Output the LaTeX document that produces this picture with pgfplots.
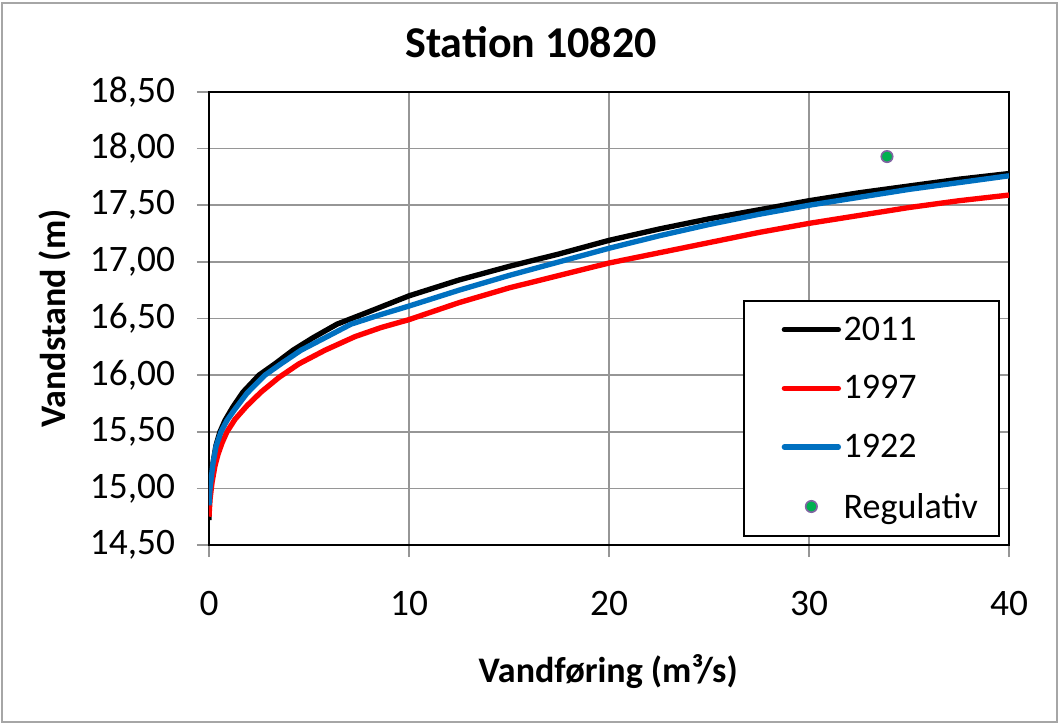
\documentclass[border=0pt]{standalone}
\usepackage{fontspec}
\setmainfont{Carlito}
\usepackage{pgfplots}
\pgfplotsset{compat=1.18}
\definecolor{xblue}{RGB}{0,112,192}
\definecolor{xred}{RGB}{255,0,0}
\definecolor{xgreen}{RGB}{0,176,80}
\definecolor{xpurple}{RGB}{128,100,162}
\definecolor{gridgray}{RGB}{150,150,150}
\pgfplotsset{marklegend/.style={legend image code/.code={\path (0pt,0pt); \draw[mark repeat=2, mark phase=2, ##1] plot coordinates {(14pt,0pt) (34.25pt,0pt) (54.5pt,0pt)};}}}
\begin{document}
\begin{tikzpicture}
\useasboundingbox (-156.75pt,-134.25pt) rectangle (637.5pt,408.75pt);
\draw[gray!70, line width=1.2pt] (-155.25pt,-132.75pt) rectangle (636pt,406.5pt);
\begin{axis}[
  at={(0,0)}, anchor=south west,
  scale only axis, width=600pt, height=339.75pt,
  xmin=0, xmax=40, ymin=14.5, ymax=18.5,
  xtick={0,10,20,30,40},
  ytick={14.5,15,15.5,16,16.5,17,17.5,18,18.5},
  grid=major,
  grid style={gridgray, line width=1.2pt},
  axis line style={black, line width=2pt},
  tick style={gridgray, line width=1.2pt},
  tick align=outside, major tick length=9pt,
  xtick pos=left, ytick pos=left,
  /pgf/number format/assume math mode=true,
  tick label style={font=\fontsize{28}{33}\selectfont},
  yticklabel style={xshift=-13pt, /pgf/number format/.cd, fixed, fixed zerofill, precision=2, use comma},
  xticklabel style={yshift=-22pt, /pgf/number format/.cd, fixed, precision=0},
  title={Station 10820},
  title style={font=\fontsize{33}{38}\bfseries, at={(0.4025,1.0927)}, anchor=center},
  xlabel={Vandføring (m³/s)},
  xlabel style={font=\fontsize{27}{32}\bfseries, at={(0.499,-0.2803)}, anchor=center},
  ylabel={Vandstand (m)},
  ylabel style={font=\fontsize{27}{32}\bfseries, at={(-0.1925,0.5)}, anchor=center, rotate=0},
  legend style={at={(0.989,0.541)}, anchor=north east, draw=black, line width=1.5pt, fill=white,
    font=\fontsize{27}{32}\selectfont, row sep=21pt, inner xsep=14pt, inner ysep=10pt,
    cells={anchor=west}},
  legend image code/.code={\path (0pt,0pt); \draw[#1, line cap=round] (14pt,0pt) -- (54.5pt,0pt);},
  legend cell align=left,
]
\addplot[black, line width=4pt, line join=round] coordinates {
(0,14.72) (0.02,14.9) (0.1,15.05) (0.2,15.22) (0.35,15.38) (0.55,15.5) (0.8,15.6) (1.2,15.72) (1.7,15.85) (2.5,16.0) (3.3,16.1) (4.2,16.22) (5.2,16.33) (6.4,16.45) (8,16.56) (10,16.70) (12.5,16.84) (15,16.96) (17.5,17.07) (20,17.19) (22.5,17.29) (25,17.38) (27.5,17.46) (30,17.54) (32.5,17.61) (35,17.67) (37.5,17.73) (40,17.78)
};
\addlegendentry{2011}
\addplot[xred, line width=4pt, line join=round] coordinates {
(0,14.75) (0.05,14.9) (0.15,15.05) (0.3,15.2) (0.45,15.3) (0.65,15.4) (0.9,15.5) (1.3,15.61) (1.9,15.73) (2.6,15.85) (3.5,15.98) (4.5,16.1) (5.8,16.22) (7.3,16.34) (8.6,16.42) (10,16.49) (12.5,16.64) (15,16.77) (17.5,16.88) (20,16.99) (22.5,17.08) (25,17.17) (27.5,17.26) (30,17.34) (32.5,17.41) (35,17.48) (37.5,17.54) (40,17.59)
};
\addlegendentry{1997}
\addplot[xblue, line width=4pt, line join=round] coordinates {
(0,14.85) (0.05,15.0) (0.2,15.22) (0.35,15.37) (0.6,15.5) (0.9,15.6) (1.3,15.7) (1.9,15.84) (2.8,16.0) (3.6,16.1) (4.6,16.22) (5.8,16.33) (7.1,16.45) (8.5,16.53) (10,16.61) (12.5,16.75) (15,16.88) (17.5,17.0) (20,17.12) (22.5,17.23) (25,17.33) (27.5,17.42) (30,17.50) (32.5,17.57) (35,17.64) (37.5,17.70) (40,17.76)
};
\addlegendentry{1922}
\addplot[only marks, mark=*, mark size=4.3pt, mark options={fill=xgreen, draw=xpurple, line width=1.2pt}, marklegend]
  coordinates {(33.9,17.93)};
\addlegendentry{Regulativ}
\end{axis}
\end{tikzpicture}
\end{document}
